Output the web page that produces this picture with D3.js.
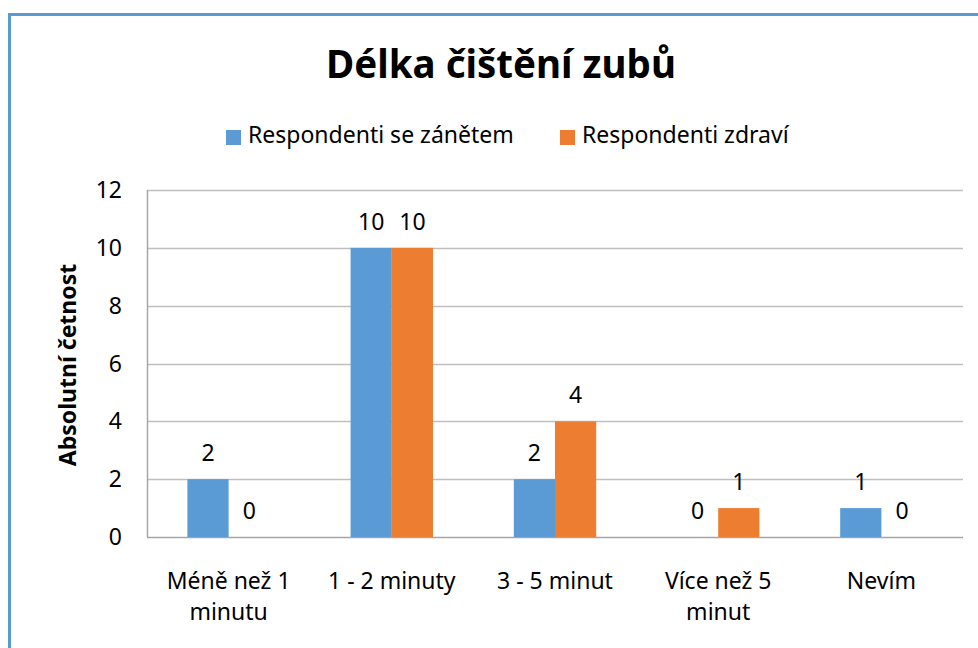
<!DOCTYPE html>
<html>
<head>
<meta charset="utf-8">
<script src="https://cdn.jsdelivr.net/npm/d3@7"></script>
<style>
  body { margin: 0; background: #fff; }
  text { font-family: "Noto Sans", sans-serif; fill: #000; }
</style>
</head>
<body>
<div id="chart"></div>
<script>
// data
var categories = [["Méně než 1", "minutu"], ["1 - 2 minuty"], ["3 - 5 minut"], ["Více než 5", "minut"], ["Nevím"]];
var seriesNames = ["Respondenti se zánětem", "Respondenti zdraví"];
var zanet = [2, 10, 2, 0, 1];
var zdravi = [0, 10, 4, 1, 0];
var yTicks = [0, 2, 4, 6, 8, 10, 12];
var colors = ["#5b9bd5", "#ed7d31"];

const width = 978;
const height = 648;
var margins = {top: 190, bottom: 111, left: 147, right: 15};

var svg = d3.select("#chart").append("svg")
    .attr("width", width).attr("height", height);

// frame
svg.append("rect")
    .attr("x", 9.5).attr("y", 14.5)
    .attr("width", 1000).attr("height", 700)
    .attr("fill", "none").attr("stroke", "#5b9bd5").attr("stroke-width", 3);

var x0 = d3.scaleBand()
    .domain(d3.range(categories.length))
    .range([margins.left, width - margins.right]);
var x1 = d3.scaleBand()
    .domain([0, 1])
    .range([0, x0.bandwidth()])
    .paddingInner(0)
    .paddingOuter(0.98);
var y = d3.scaleLinear()
    .domain([0, 12])
    .range([height - margins.bottom, margins.top]);

// gridlines
svg.append("g").selectAll("line")
    .data(yTicks)
    .enter().append("line")
    .attr("x1", margins.left).attr("x2", width - margins.right)
    .attr("y1", function (d) { return Math.round(y(d)) + 0.5; })
    .attr("y2", function (d) { return Math.round(y(d)) + 0.5; })
    .attr("stroke", function (d) { return d === 0 ? "#a6a6a6" : "#bfbfbf"; })
    .attr("stroke-width", 1.5);

svg.append("line")
    .attr("x1", margins.left + 0.5).attr("x2", margins.left + 0.5)
    .attr("y1", y(12)).attr("y2", y(0))
    .attr("stroke", "#a6a6a6").attr("stroke-width", 1.5);

// y tick labels
svg.append("g").selectAll("text")
    .data(yTicks)
    .enter().append("text")
    .attr("x", 122)
    .attr("y", function (d) { return y(d) + 8; })
    .attr("text-anchor", "end")
    .style("font-size", "23px")
    .text(function (d) { return d; });

// bars
var series = [zanet, zdravi];
series.forEach(function (vals, s) {
    var g = svg.append("g");
    g.selectAll("rect")
        .data(vals)
        .enter().append("rect")
        .attr("x", function (d, i) { return x0(i) + x1(s); })
        .attr("y", function (d) { return y(d); })
        .attr("width", x1.bandwidth())
        .attr("height", function (d) { return y(0) - y(d); })
        .attr("fill", colors[s]);
    g.selectAll("text")
        .data(vals)
        .enter().append("text")
        .attr("x", function (d, i) { return x0(i) + x1(s) + x1.bandwidth() / 2; })
        .attr("y", function (d) { return y(d) - 18; })
        .attr("text-anchor", "middle")
        .style("font-size", "23px")
        .text(function (d) { return d; });
});

// category labels
var cat = svg.append("g").selectAll("text")
    .data(categories)
    .enter().append("text")
    .attr("text-anchor", "middle")
    .style("font-size", "23px")
    .attr("transform", function (d, i) {
        return "translate(" + (x0(i) + x0.bandwidth() / 2) + ",589)";
    });
cat.selectAll("tspan")
    .data(function (d) { return d; })
    .enter().append("tspan")
    .attr("x", 0)
    .attr("dy", function (d, i) { return i === 0 ? 0 : 31; })
    .text(function (d) { return d; });

// y axis title
svg.append("text")
    .attr("transform", "translate(76,365) rotate(-90)")
    .attr("text-anchor", "middle")
    .style("font-size", "23px")
    .style("font-weight", "bold")
    .text("Absolutní  četnost");

// title
svg.append("text")
    .attr("x", 501).attr("y", 78)
    .attr("text-anchor", "middle")
    .style("font-size", "38.5px")
    .style("font-weight", "bold")
    .text("Délka čištění zubů");

// legend
var legendX = [226, 560];
var legend = svg.append("g").selectAll("g")
    .data(seriesNames)
    .enter().append("g")
    .attr("transform", function (d, i) { return "translate(" + legendX[i] + ",130)"; });
legend.append("rect")
    .attr("width", 15).attr("height", 15)
    .attr("fill", function (d, i) { return colors[i]; });
legend.append("text")
    .attr("x", 22).attr("y", 13)
    .style("font-size", "23px")
    .text(function (d) { return d; });
</script>
</body>
</html>
